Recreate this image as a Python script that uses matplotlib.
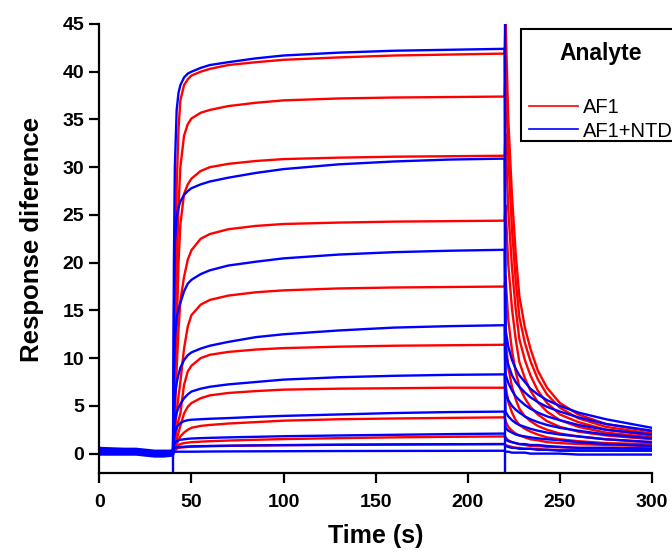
import matplotlib
matplotlib.use("Agg")
import matplotlib.pyplot as plt
from matplotlib.lines import Line2D
from matplotlib.patches import Rectangle

plt.rcParams['font.family'] = ['Liberation Sans', 'DejaVu Sans']

# Sampling times of the sensorgrams (s): baseline, association, dissociation
time_s = [0, 10, 20, 25, 30, 35, 40,
          40.5, 41, 42, 43, 44, 46, 48, 50, 55, 60, 70, 85, 100, 130, 160, 190, 220,
          220.5, 222, 224, 226, 228, 231, 234, 238, 243, 250, 260, 275, 300]

# Analyte AF1, one sensorgram per concentration
af1_1 = [0.3, 0.3, 0.3, 0.2, 0.1, 0.1, 0.2,
         6, 15, 28, 34, 37, 38.6, 39.2, 39.6, 40.0, 40.3, 40.7, 41.0, 41.25, 41.5, 41.7, 41.8, 41.9,
         45.5, 35, 27, 21, 16.5, 13.2, 11.0, 8.7, 6.9, 5.3, 4.1, 3.1, 2.3]
af1_2 = [0.2, 0.2, 0.2, 0.1, 0.0, 0.0, 0.1,
         3, 9, 19, 26, 30, 33.3, 34.5, 35.1, 35.7, 36.0, 36.4, 36.75, 37.0, 37.2, 37.3, 37.35, 37.4,
         40, 31, 23.5, 18.2, 14.3, 11.6, 9.7, 7.8, 6.2, 4.8, 3.7, 2.8, 2.1]
af1_3 = [0.4, 0.4, 0.3, 0.2, 0.1, 0.1, 0.1,
         2, 5, 13, 20, 24, 27.2, 28.2, 28.8, 29.6, 30.0, 30.35, 30.65, 30.85, 31.0, 31.1, 31.15, 31.2,
         33.5, 25.5, 19.5, 15.2, 12.0, 9.8, 8.2, 6.6, 5.3, 4.1, 3.3, 2.5, 1.9]
af1_4 = [0.1, 0.1, 0.1, 0.0, -0.1, 0.0, 0.0,
         1.5, 4, 9, 13, 16, 18.5, 20.3, 21.3, 22.5, 23.0, 23.5, 23.85, 24.05, 24.2, 24.3, 24.35, 24.4,
         26, 19.8, 15.2, 12.0, 9.6, 7.9, 6.6, 5.4, 4.4, 3.5, 2.8, 2.2, 1.7]
af1_5 = [0.3, 0.2, 0.2, 0.2, 0.1, 0.1, 0.1,
         0.8, 2, 4.5, 6, 7.5, 11.0, 13.3, 14.5, 15.6, 16.1, 16.55, 16.9, 17.1, 17.3, 17.4, 17.45, 17.5,
         18.5, 14, 10.8, 8.6, 7.0, 5.8, 4.9, 4.1, 3.4, 2.8, 2.3, 1.9, 1.5]
af1_6 = [0.5, 0.4, 0.4, 0.3, 0.2, 0.2, 0.2,
         0.5, 1.2, 2.5, 3.5, 4.2, 7.2, 8.6, 9.2, 10.0, 10.35, 10.65, 10.9, 11.05, 11.2, 11.3, 11.35, 11.4,
         12, 9, 7.0, 5.7, 4.7, 3.9, 3.4, 2.9, 2.5, 2.1, 1.8, 1.5, 1.2]
af1_7 = [0.0, 0.0, 0.0, -0.1, -0.1, -0.1, 0.0,
         0.4, 0.8, 1.5, 2.2, 2.9, 4.2, 4.9, 5.3, 5.8, 6.1, 6.35, 6.55, 6.7, 6.8, 6.85, 6.9, 6.9,
         7.2, 5.4, 4.3, 3.5, 3.0, 2.6, 2.3, 2.0, 1.7, 1.5, 1.3, 1.1, 1.0]
af1_8 = [0.2, 0.2, 0.3, 0.2, 0.1, 0.1, 0.1,
         0.3, 0.5, 1.0, 1.4, 1.8, 2.2, 2.5, 2.7, 2.9, 3.0, 3.15, 3.3, 3.45, 3.6, 3.68, 3.74, 3.8,
         3.4, 2.8, 2.4, 2.1, 1.9, 1.7, 1.5, 1.4, 1.2, 1.1, 1.0, 0.9, 0.8]
af1_9 = [0.4, 0.3, 0.3, 0.2, 0.2, 0.2, 0.2,
         0.2, 0.4, 0.7, 0.9, 1.0, 1.1, 1.15, 1.2, 1.25, 1.3, 1.37, 1.45, 1.52, 1.62, 1.7, 1.76, 1.8,
         1.7, 1.4, 1.2, 1.1, 1.0, 0.9, 0.8, 0.8, 0.7, 0.7, 0.6, 0.6, 0.6]
af1_10 = [0.1, 0.1, 0.1, 0.0, 0.0, 0.0, 0.1,
          0.2, 0.3, 0.5, 0.6, 0.62, 0.66, 0.7, 0.72, 0.75, 0.78, 0.81, 0.85, 0.88, 0.92, 0.95, 0.98, 1.0,
          0.9, 0.8, 0.7, 0.6, 0.6, 0.5, 0.5, 0.5, 0.4, 0.4, 0.4, 0.4, 0.4]

# Analyte AF1+NTD, one sensorgram per concentration
ntd_1 = [0.4, 0.4, 0.3, 0.3, 0.2, 0.2, 0.2,
         20, 30, 36, 37.8, 38.6, 39.4, 39.8, 40.0, 40.4, 40.7, 41.0, 41.4, 41.7, 42.0, 42.2, 42.3, 42.4,
         13, 11.2, 9.8, 8.9, 8.2, 7.5, 6.8, 6.2, 5.6, 5.0, 4.3, 3.6, 2.7]
ntd_2 = [0.2, 0.2, 0.2, 0.1, 0.0, 0.0, 0.1,
         14, 22, 24.8, 25.8, 26.4, 27.1, 27.5, 27.8, 28.2, 28.5, 28.9, 29.4, 29.8, 30.3, 30.6, 30.8, 30.9,
         10.5, 9.3, 8.2, 7.5, 7.0, 6.4, 5.9, 5.4, 4.9, 4.4, 3.8, 3.1, 2.4]
ntd_3 = [0.5, 0.5, 0.4, 0.3, 0.2, 0.2, 0.3,
         8, 12, 14.2, 15.2, 15.8, 17.0, 17.8, 18.2, 18.8, 19.2, 19.7, 20.1, 20.45, 20.85, 21.1, 21.25, 21.35,
         8.3, 7.4, 6.6, 6.0, 5.6, 5.1, 4.7, 4.3, 3.9, 3.5, 3.0, 2.5, 2.0]
ntd_4 = [0.0, 0.0, 0.0, -0.1, -0.2, -0.2, -0.1,
         4, 6, 7.4, 8.3, 9.0, 9.8, 10.3, 10.6, 11.0, 11.3, 11.7, 12.2, 12.5, 12.9, 13.2, 13.35, 13.45,
         6.3, 5.6, 5.0, 4.6, 4.3, 3.9, 3.6, 3.3, 3.0, 2.7, 2.4, 2.0, 1.6]
ntd_5 = [0.3, 0.3, 0.3, 0.2, 0.1, 0.1, 0.1,
         2.5, 3.5, 4.3, 4.8, 5.2, 5.8, 6.2, 6.5, 6.8, 7.0, 7.25, 7.5, 7.75, 8.0, 8.15, 8.25, 8.3,
         4.4, 3.9, 3.5, 3.2, 3.0, 2.8, 2.6, 2.4, 2.2, 2.0, 1.8, 1.5, 1.2]
ntd_6 = [0.6, 0.5, 0.5, 0.4, 0.3, 0.3, 0.3,
         1.5, 2.2, 2.8, 3.0, 3.2, 3.4, 3.5, 3.55, 3.6, 3.65, 3.72, 3.85, 3.95, 4.1, 4.25, 4.35, 4.4,
         2.7, 2.4, 2.2, 2.0, 1.9, 1.8, 1.7, 1.6, 1.5, 1.4, 1.2, 1.0, 0.8]
ntd_7 = [-0.1, -0.1, -0.1, -0.2, -0.3, -0.3, -0.2,
         0.8, 1.1, 1.3, 1.4, 1.45, 1.5, 1.55, 1.58, 1.62, 1.65, 1.7, 1.76, 1.82, 1.9, 1.97, 2.04, 2.1,
         1.5, 1.3, 1.2, 1.1, 1.0, 1.0, 0.9, 0.9, 0.8, 0.7, 0.6, 0.6, 0.5]
ntd_8 = [0.3, 0.2, 0.2, 0.1, 0.0, 0.1, 0.1,
         0.5, 0.6, 0.65, 0.68, 0.7, 0.72, 0.74, 0.76, 0.78, 0.8, 0.83, 0.86, 0.89, 0.93, 0.96, 0.98, 1.0,
         0.8, 0.7, 0.6, 0.6, 0.5, 0.5, 0.5, 0.4, 0.4, 0.3, 0.3, 0.3, 0.3]
ntd_9 = [0.1, 0.1, 0.1, 0.0, -0.1, -0.1, 0.0,
         0.15, 0.18, 0.2, 0.2, 0.2, 0.2, 0.2, 0.2, 0.21, 0.22, 0.23, 0.24, 0.25, 0.27, 0.28, 0.29, 0.3,
         0.2, 0.2, 0.1, 0.1, 0.1, 0.1, 0.0, 0.0, 0.0, 0.0, -0.1, -0.1, -0.1]

af1_curves = [af1_1, af1_2, af1_3, af1_4, af1_5, af1_6, af1_7, af1_8, af1_9, af1_10]
ntd_curves = [ntd_1, ntd_2, ntd_3, ntd_4, ntd_5, ntd_6, ntd_7, ntd_8, ntd_9]

# Injection artefacts (start / end of injection) on the AF1+NTD channel
spike_t = [40, 220]
spike_low = [-2.5, -2.5]
spike_high = [0.3, 46]

series_names = ['AF1', 'AF1+NTD']
x_ticks = [0, 50, 100, 150, 200, 250, 300]
y_ticks = [0, 5, 10, 15, 20, 25, 30, 35, 40, 45]

RED = '#ff0000'
BLUE = '#0000ff'
LW = 1.7

W, H = 672, 551
fig = plt.figure(figsize=(W / 100, H / 100), dpi=100)
ax = fig.add_axes([99.3 / W, 1 - 472.7 / H, (652 - 99.3) / W, (472.7 - 24) / H])

for y in af1_curves:
    ax.plot(time_s, y, color=RED, lw=LW)
ax.vlines(spike_t, spike_low, spike_high, color=BLUE, lw=LW)
for y in ntd_curves:
    ax.plot(time_s, y, color=BLUE, lw=LW)

ax.set_xlim(0, 300)
ax.set_ylim(-2, 45)
ax.set_xticks(x_ticks)
ax.set_yticks(y_ticks)

for side in ('top', 'right'):
    ax.spines[side].set_visible(False)
for side in ('left', 'bottom'):
    ax.spines[side].set_linewidth(1.6)
    ax.spines[side].set_color('black')

ax.tick_params(axis='both', direction='out', length=7, width=1.6, colors='black',
               labelsize=14)
ax.tick_params(axis='x', pad=8)
ax.tick_params(axis='y', pad=4)
for lab in ax.get_xticklabels() + ax.get_yticklabels():
    lab.set_fontweight('bold')

ax.set_xlabel('Time (s)', fontsize=18, fontweight='bold', labelpad=10)
ax.set_ylabel('Response diference', fontsize=18.5, fontweight='bold')
ax.yaxis.set_label_coords(-0.100, 0.519)

# Legend box (frame runs past the right edge of the figure)
box_left, box_top, box_bottom = 521, 29.3, 140.7
ax.add_patch(Rectangle((box_left / W, 1 - box_bottom / H),
                       (W + 20 - box_left) / W, (box_bottom - box_top) / H,
                       transform=fig.transFigure, facecolor='white',
                       edgecolor='black', linewidth=1.5, zorder=4, clip_on=False))

handles = [Line2D([], [], color=RED, lw=1.2), Line2D([], [], color=BLUE, lw=1.2)]
leg = ax.legend(handles, series_names, title='Analyte', loc='upper left',
                bbox_to_anchor=(box_left / W, 1 - (box_top + 4) / H),
                bbox_transform=fig.transFigure,
                borderaxespad=0, frameon=False, prop={'size': 14.5},
                title_fontproperties={'weight': 'bold', 'size': 16.5},
                handlelength=2.4, handletextpad=0.25, labelspacing=0.22,
                borderpad=0.42)
leg.set_zorder(5)
leg._legend_box.sep = 24

fig.savefig('out.png', dpi=100)
